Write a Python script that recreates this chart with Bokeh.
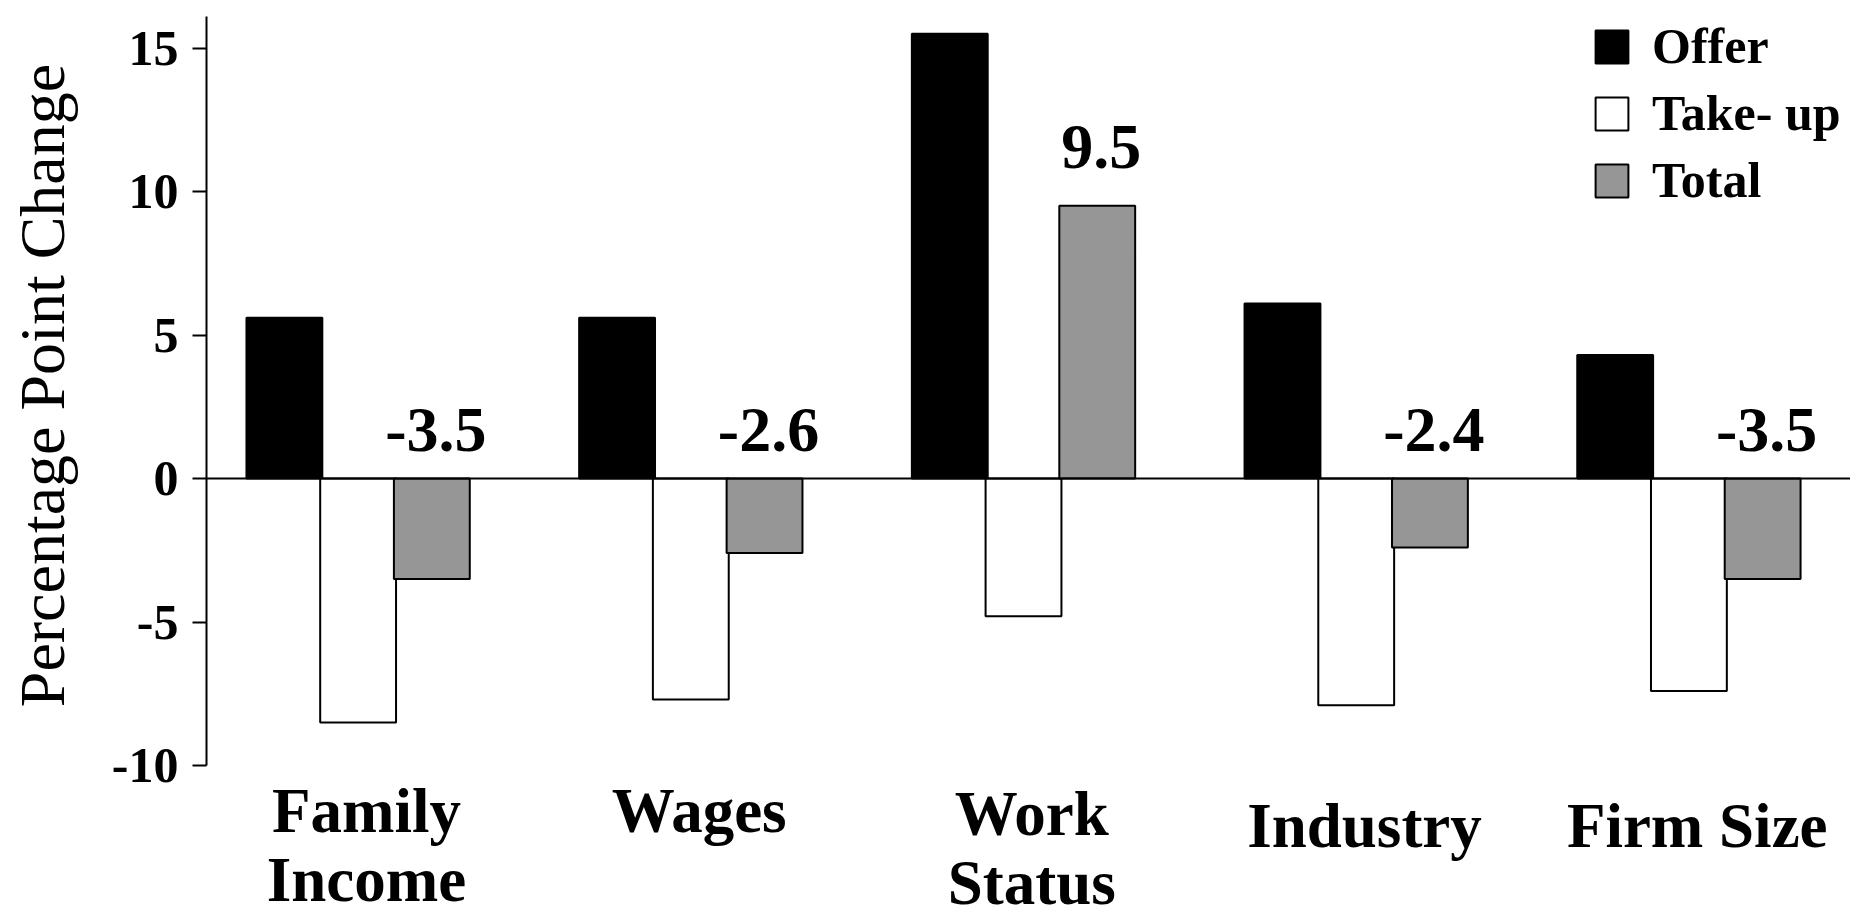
from math import pi

from bokeh.plotting import figure
from bokeh.layouts import row
from bokeh.models import (ColumnDataSource, Range1d, FixedTicker, Span,
                          Legend, LegendItem)
from bokeh.core.properties import value
from bokeh.embed import file_html
from bokeh.resources import INLINE

# ---- data -------------------------------------------------------------
categories = ["Family\nIncome", "Wages", "Work\nStatus", "Industry", "Firm Size"]
offer = [5.6, 5.6, 15.5, 6.1, 4.3]
take_up = [-8.5, -7.7, -4.8, -7.9, -7.4]
total = [-3.5, -2.6, 9.5, -2.4, -3.5]
series_names = ["Offer", "Take- up", "Total"]
y_ticks = [-10, -5, 0, 5, 10, 15]
y_title = "Percentage Point Change"

# ---- layout -----------------------------------------------------------
W, H = 1850, 917
TITLE_W = 96              # strip holding the rotated y title
AXIS_W = 110              # room for ticks and tick labels
FRAME_LEFT = TITLE_W + AXIS_W
PX_X = 332.7              # px per category step
PX_Y = 28.7               # px per percentage point
ZERO_PX = 478             # px from the top where y = 0 sits

x_start = 0.5443
x_end = x_start + (W - FRAME_LEFT) / PX_X
y_end = ZERO_PX / PX_Y
y_start = -(H - ZERO_PX) / PX_Y

FONT = value("Liberation Serif")
BAR_W = 0.228
OFFSETS = [-0.2216, 0.0, 0.2216]
FILLS = ["#000000", "#ffffff", "#969696"]

# vertical placement of the category names (first line centre, data units)
cat_first_line = [-11.6, -11.6, -11.7, -12.1, -12.1]
cat_line_gap = 2.4

groups = list(range(1, len(categories) + 1))

# ---- y title strip -------------------------------------------------------
t = figure(width=TITLE_W, height=H, output_backend="svg", toolbar_location=None,
           x_range=Range1d(0, TITLE_W), y_range=Range1d(0, H),
           x_axis_type=None, y_axis_type=None, min_border=0)
t.outline_line_color = None
t.grid.visible = False
t.text(x=[42], y=[H - 385], text=[y_title], angle=pi / 2, text_font=FONT,
       text_font_size="64px", text_align="center", text_baseline="middle",
       text_color="black")

# ---- main chart ---------------------------------------------------------
p = figure(width=W - TITLE_W, height=H, output_backend="svg", toolbar_location=None,
           x_range=Range1d(x_start, x_end), y_range=Range1d(y_start, y_end),
           x_axis_type=None, min_border_left=AXIS_W, min_border_right=0,
           min_border_top=0, min_border_bottom=0)
p.outline_line_color = None
p.grid.visible = False
p.background_fill_color = "white"
p.border_fill_color = "white"

ax = p.yaxis[0]
ax.ticker = FixedTicker(ticks=y_ticks)
ax.major_label_overrides = {t_: str(t_) for t_ in y_ticks}
ax.bounds = (-10, 16.1)
ax.axis_line_width = 2
ax.major_tick_line_width = 2
ax.major_tick_out = 14
ax.major_tick_in = 0
ax.minor_tick_line_color = None
ax.major_label_standoff = 14
ax.major_label_text_font = "Liberation Serif"
ax.major_label_text_font_style = "bold"
ax.major_label_text_font_size = "50px"
ax.major_label_text_color = "black"

# bars
renderers = []
for series, off, fill in zip([offer, take_up, total], OFFSETS, FILLS):
    src = ColumnDataSource(dict(x=[g + off for g in groups], top=series))
    r = p.vbar(x="x", top="top", bottom=0, width=BAR_W, source=src,
               fill_color=fill, line_color="black", line_width=2)
    renderers.append(r)

p.add_layout(Span(location=0, dimension="width", line_color="black", line_width=2))

# value labels on the totals
lab_y = [v + 2.05 if v > 0 else 1.7 for v in total]
lab_src = ColumnDataSource(dict(x=[g + OFFSETS[2] + 0.012 for g in groups], y=lab_y,
                                text=[f"{v:.1f}" for v in total]))
p.text(x="x", y="y", text="text", source=lab_src, text_font=FONT,
       text_font_style="bold", text_font_size="64px", text_align="center",
       text_baseline="alphabetic", text_color="black")

# category names
cx, cy, ct = [], [], []
for g, name, y0 in zip(groups, categories, cat_first_line):
    for i, line in enumerate(name.split("\n")):
        cx.append(g + 0.025)
        cy.append(y0 - i * cat_line_gap)
        ct.append(line)
p.text(x=cx, y=cy, text=ct, text_font=FONT, text_font_style="bold",
       text_font_size="63px", text_align="center", text_baseline="middle",
       text_color="black")

# legend
legend = Legend(items=[LegendItem(label=n, renderers=[r]) for n, r in zip(series_names, renderers)],
                location=(1385, 708), glyph_width=41, glyph_height=41,
                label_height=41, spacing=9, label_standoff=20, padding=0, margin=0,
                border_line_alpha=0, background_fill_alpha=0,
                label_text_font="Liberation Serif", label_text_font_style="bold",
                label_text_font_size="50px", label_text_color="black")
p.add_layout(legend)

layout = row(t, p, spacing=0)
open("out.html", "w").write(file_html(layout, INLINE))
